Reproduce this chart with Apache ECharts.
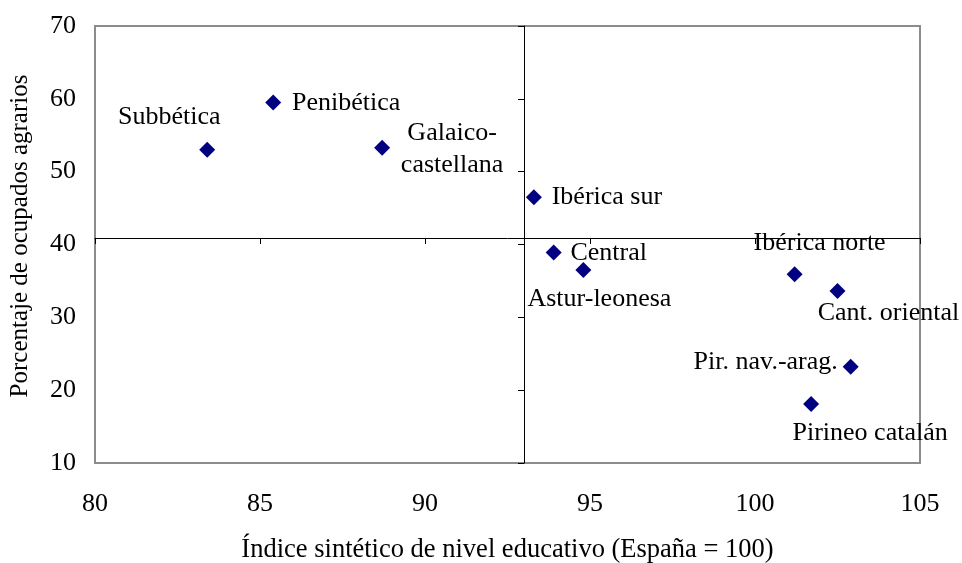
<!DOCTYPE html>
<html>
<head>
<meta charset="utf-8">
<script src="https://cdn.jsdelivr.net/npm/echarts@6/dist/echarts.min.js"></script>
<style>
  html, body { margin: 0; padding: 0; background: #fff; }
  #main { width: 962px; height: 563px; }
</style>
</head>
<body>
<div id="main"></div>
<script>
// comarcas y sus valores
var names = ['Subbética', 'Penibética', 'Galaico-\ncastellana', 'Ibérica sur', 'Central',
  'Astur-leonesa', 'Ibérica norte', 'Cant. oriental', 'Pir. nav.-arag.', 'Pirineo catalán'];
var eduIndex = [83.4, 85.4, 88.7, 93.3, 93.9, 94.8, 101.2, 102.5, 102.9, 101.7];
var agrShare = [53.0, 59.5, 53.3, 46.5, 38.9, 36.5, 35.9, 33.6, 23.2, 18.1];
var xTicks = [80, 85, 90, 95, 100, 105];
var yTicks = [10, 20, 30, 40, 50, 60, 70];
// punto de cruce de los ejes
var crossX = 93.0;
var crossY = 40.9;

// desplazamiento de cada etiqueta respecto al punto (px)
var labelOffsets = [
  [-38, -33], [73, 1], [70, 2], [73, 0], [55, 1],
  [16, 29], [25, -31], [51, 22], [-85, -5], [59, 29]
];

var gridLeft = 95, gridRight = 42, gridTop = 26, gridBottom = 100;
var gridW = 962 - gridLeft - gridRight;
var gridH = 563 - gridTop - gridBottom;
var xMin = xTicks[0], xMax = xTicks[xTicks.length - 1];
var yMin = yTicks[0], yMax = yTicks[yTicks.length - 1];

var font = '"Liberation Serif", "Times New Roman", serif';

var data = [];
for (var i = 0; i < names.length; i++) {
  data.push({
    value: [eduIndex[i], agrShare[i]],
    name: names[i],
    label: { offset: labelOffsets[i] }
  });
}

var myChart = echarts.init(document.getElementById('main'));
var option = {
  animation: false,
  backgroundColor: '#ffffff',
  grid: {
    left: gridLeft, right: gridRight, top: gridTop, bottom: gridBottom,
    outerBoundsMode: 'none', containLabel: false,
    show: true, borderColor: '#8c8c8c', borderWidth: 2, backgroundColor: 'transparent'
  },
  xAxis: [
    {
      type: 'value', min: xMin, max: xMax, interval: 5,
      name: 'Índice sintético de nivel educativo (España = 100)',
      nameLocation: 'middle', nameGap: 74,
      nameTextStyle: { fontFamily: font, fontSize: 26.5, color: '#000' },
      axisLine: { show: false }, axisTick: { show: false }, splitLine: { show: false },
      axisLabel: { fontFamily: font, fontSize: 26, color: '#000', margin: 28 }
    },
    {
      // eje que cruza en y = crossY
      type: 'value', min: xMin, max: xMax, interval: 5, position: 'bottom',
      offset: -(crossY - yMin) / (yMax - yMin) * gridH,
      axisLine: { show: true, onZero: false, lineStyle: { color: '#000', width: 1 } },
      axisTick: { show: true, length: 6, lineStyle: { color: '#000' } },
      axisLabel: { show: false }, splitLine: { show: false }
    }
  ],
  yAxis: [
    {
      type: 'value', min: yMin, max: yMax, interval: 10,
      name: 'Porcentaje de ocupados agrarios',
      nameLocation: 'middle', nameGap: 62, nameRotate: 90,
      nameTextStyle: { fontFamily: font, fontSize: 25, color: '#000', padding: [0, 0, 0, 17] },
      axisLine: { show: false }, axisTick: { show: false }, splitLine: { show: false },
      axisLabel: { fontFamily: font, fontSize: 26, color: '#000', margin: 19 }
    },
    {
      // eje que cruza en x = crossX
      type: 'value', min: yMin, max: yMax, interval: 10, position: 'left',
      offset: -(crossX - xMin) / (xMax - xMin) * gridW,
      axisLine: { show: true, onZero: false, lineStyle: { color: '#000', width: 1 } },
      axisTick: { show: true, length: 6, lineStyle: { color: '#000' } },
      axisLabel: { show: false }, splitLine: { show: false }
    }
  ],
  series: [
    {
      type: 'scatter',
      xAxisIndex: 0, yAxisIndex: 0,
      symbol: 'diamond',
      symbolSize: 16,
      itemStyle: { color: '#000080', opacity: 1 },
      label: {
        show: true,
        position: 'inside',
        formatter: '{b}',
        fontFamily: font,
        fontSize: 26,
        lineHeight: 32,
        color: '#000',
        align: 'center',
        verticalAlign: 'middle'
      },
      data: data
    }
  ]
};
myChart.setOption(option);
</script>
</body>
</html>
